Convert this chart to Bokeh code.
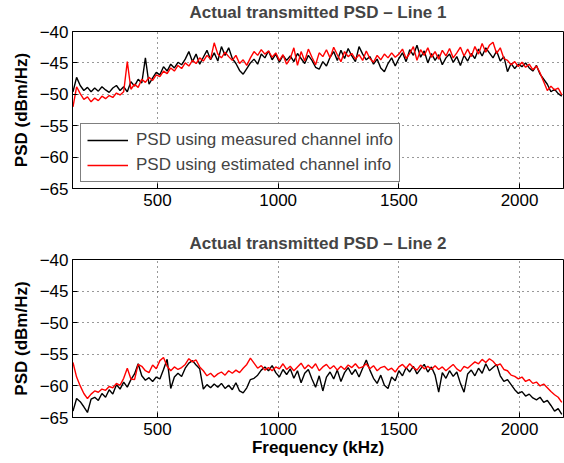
import numpy as np
from bokeh.plotting import figure
from bokeh.layouts import column
from bokeh.models import FixedTicker, Range1d, Legend, LegendItem, Title
from bokeh.embed import file_html
from bokeh.resources import INLINE

# Frequency grid (kHz)
freq = np.arange(150, 2176, 15)

# Line 1 PSD (dBm/Hz)
line1_measured = [
    -49.6, -47.3, -48.6, -49.4, -48.9, -49.6, -49.0, -49.5, -48.8, -49.3,
    -49.7, -49.0, -48.6, -49.4, -48.8, -49.6, -48.0, -48.7, -47.6, -48.2,
    -44.2, -48.4, -47.4, -46.5, -46.9, -45.6, -46.3, -45.2, -45.8, -44.9,
    -45.3, -44.4, -43.2, -44.8, -43.6, -45.2, -44.1, -43.0, -44.5, -43.4,
    -44.7, -42.4, -43.8, -42.6, -44.3, -45.1, -46.2, -46.8, -45.9, -45.0,
    -44.4, -45.2, -43.6, -44.2, -43.1, -44.5, -43.6, -44.9, -43.8, -44.6,
    -43.9, -44.8, -43.5, -44.3, -45.1, -43.8, -44.6, -45.7, -46.0, -44.8,
    -45.5, -44.1, -43.2, -44.6, -43.0, -44.3, -42.7, -43.9, -44.8, -42.4,
    -43.6, -44.5, -44.0, -45.2, -44.4, -45.8, -46.4, -45.1, -44.2, -45.5,
    -44.3, -43.4, -44.8, -42.9, -43.8, -42.2, -44.1, -43.1, -45.0, -43.5,
    -44.6, -43.7, -45.3, -44.2, -43.6, -44.9, -44.0, -45.4, -43.8, -44.7,
    -43.5, -44.3, -42.8, -43.9, -42.6, -43.4, -44.2, -43.1, -44.7, -44.0,
    -46.4, -45.1, -45.9, -45.2, -45.6, -45.0, -45.8, -46.3, -45.4, -46.8,
    -47.6, -48.4, -49.6, -49.2, -49.9, -50.3,
]
line1_estimated = [
    -52.0, -48.8, -49.9, -50.8, -50.4, -51.2, -50.6, -51.0, -50.3, -50.7,
    -50.2, -50.5, -49.8, -50.1, -49.6, -44.8, -49.2, -48.4, -48.9, -47.6,
    -48.1, -47.3, -47.8, -46.9, -47.2, -46.3, -46.7, -45.8, -46.3, -45.4,
    -45.9, -45.0, -45.5, -44.6, -45.1, -44.2, -44.7, -43.8, -44.4, -41.8,
    -43.6, -44.2, -43.3, -44.0, -44.6, -43.8, -45.1, -44.5, -45.4, -44.2,
    -43.2, -43.8, -42.9, -43.6, -43.1, -44.1, -43.4, -44.6, -43.7, -45.2,
    -44.3, -42.6, -45.4, -43.2, -44.7, -42.8, -44.1, -45.3, -43.4, -44.0,
    -42.9, -44.2, -42.5, -43.7, -44.8, -43.2, -44.0, -43.5, -44.4, -43.7,
    -44.6, -43.1, -44.3, -44.9, -43.8, -44.5, -43.6, -44.2, -43.4, -44.1,
    -43.6, -42.8, -44.3, -43.5, -42.4, -44.6, -42.9, -43.8, -42.6, -44.1,
    -43.2, -44.4, -43.0, -43.9, -42.7, -44.2, -43.4, -42.5, -43.9, -42.8,
    -44.0, -42.4, -43.6, -41.9, -43.3, -42.2, -41.7, -43.5, -42.6, -44.3,
    -44.6, -45.3, -44.8, -45.6, -44.9, -45.7, -45.2, -46.1, -45.5, -46.6,
    -48.0, -49.4, -48.7, -49.3, -49.0, -50.1,
]

# Line 2 PSD (dBm/Hz)
line2_measured = [
    -64.0, -62.0, -62.5, -63.3, -64.2, -62.1, -61.8, -62.3, -61.2, -61.8,
    -60.6, -61.3, -59.8, -60.5, -59.4, -60.2, -59.0, -58.1, -56.5, -58.4,
    -59.1, -58.7, -59.3, -58.6, -58.9, -57.4, -55.8, -60.4, -58.6, -58.0,
    -58.5, -57.2, -56.4, -56.0, -56.7, -57.3, -60.5, -59.8, -60.3, -59.7,
    -60.2, -59.6, -60.4, -59.9, -60.6, -59.5, -60.8, -61.1, -60.3, -59.0,
    -58.8, -58.3, -57.5, -57.0, -57.6, -56.8, -57.9, -58.6, -57.4, -58.2,
    -57.3, -58.8, -57.6, -59.5, -58.0, -57.4, -58.9, -60.2, -58.4, -60.8,
    -58.6, -57.8, -58.9, -57.5, -59.3, -57.9, -57.1, -58.2, -57.4, -58.6,
    -57.2, -55.9, -57.5, -58.8, -59.6, -58.3, -59.9, -60.4, -58.6, -59.2,
    -57.6, -58.4, -57.1, -57.8, -56.9, -58.1, -57.3, -56.6, -57.8, -57.0,
    -58.3, -61.0, -57.9, -58.8, -57.6, -58.5, -57.8, -59.6, -61.0, -58.1,
    -57.5, -58.4, -57.2, -58.0, -56.5, -57.6, -57.1, -56.6, -58.4, -59.3,
    -59.0, -59.8, -60.6, -61.2, -60.9, -61.6, -61.3, -61.9, -62.2, -61.8,
    -62.6, -62.3, -63.1, -64.0, -63.6, -64.5,
]
line2_estimated = [
    -56.3, -58.6, -60.0, -61.2, -62.0, -61.3, -60.8, -61.0, -60.5, -60.7,
    -60.1, -60.3, -59.6, -59.9, -58.8, -57.2, -58.9, -59.0, -56.6, -56.9,
    -57.6, -57.9, -56.7, -57.3, -56.0, -55.5, -56.9, -57.6, -57.0, -57.4,
    -57.1, -56.6, -55.7, -56.2, -55.9, -57.0, -57.6, -58.4, -58.0, -58.6,
    -58.1, -57.8, -58.3, -57.6, -58.0, -57.5, -57.9, -57.2, -56.6, -55.6,
    -56.4, -57.2, -56.8, -57.5, -57.1, -57.6, -57.0, -57.3, -56.5, -57.4,
    -56.9, -57.6, -57.0, -56.4, -57.3, -56.7, -57.2, -56.5, -57.6, -57.0,
    -56.6, -57.3, -56.8, -57.5, -56.9, -57.4, -56.7, -57.1, -56.5, -57.2,
    -57.0, -56.5, -57.3, -56.8, -57.6, -57.1, -56.9, -57.5, -57.2, -57.8,
    -57.0, -56.6, -57.2, -56.5, -57.1, -57.5, -56.7, -57.3, -56.9, -57.4,
    -56.8, -57.4, -57.0, -57.6, -57.1, -56.6, -57.3, -57.7, -56.9, -57.2,
    -56.7, -56.2, -56.5, -55.8, -56.3, -55.7, -56.1, -56.8, -56.5, -57.4,
    -57.6, -58.3, -58.5, -58.9, -58.6, -59.3, -59.0, -59.6, -59.4, -60.0,
    -59.7, -60.3, -60.9, -61.4, -61.8, -62.6,
]

x_ticks = [500, 1000, 1500, 2000]
y_ticks = [-65, -60, -55, -50, -45, -40]
titles = ["Actual transmitted PSD \u2013 Line 1", "Actual transmitted PSD \u2013 Line 2"]
legend_labels = ["PSD using measured channel info", "PSD using estimated channel info"]

FONT = "Liberation Sans"
FS = "17px"


def make_panel(title, measured, estimated, height, top, bottom, spacer, xlabel=None, legend=False):
    p = figure(width=564, height=height, output_backend="svg", toolbar_location=None,
               x_range=Range1d(148, 2182), y_range=Range1d(-65, -40),
               min_border_left=72, min_border_right=1,
               min_border_top=top, min_border_bottom=bottom)
    p.title.text = title
    p.title.align = "center"
    p.title.vertical_align = "top"
    p.title.text_font = FONT
    p.title.text_font_size = FS
    p.title.text_font_style = "bold"
    p.title.standoff = 0
    # thin blank spacer between the title and the axes box
    p.add_layout(Title(text=" ", text_font_size=spacer, standoff=0), "above")
    p.outline_line_color = "black"
    p.outline_line_width = 1
    p.background_fill_color = "white"
    p.border_fill_color = "white"

    for ax, ticks in ((p.xaxis[0], x_ticks), (p.yaxis[0], y_ticks)):
        ax.ticker = FixedTicker(ticks=ticks)
        ax.major_label_overrides = {t: str(t).replace("-", "\u2212") for t in ticks}
        ax.major_label_text_font = FONT
        ax.major_label_text_font_size = FS
        ax.major_label_text_color = "black"
        ax.major_tick_in = 5
        ax.major_tick_out = 0
        ax.minor_tick_line_color = None
        ax.axis_line_color = "black"
        ax.major_tick_line_color = "black"
        ax.axis_label_text_font = FONT
        ax.axis_label_text_font_size = FS
        ax.axis_label_text_font_style = "bold"
        ax.axis_label_text_color = "black"
    p.yaxis[0].axis_label = "PSD (dBm/Hz)"
    p.yaxis[0].major_label_standoff = 4
    p.yaxis[0].axis_label_standoff = 6
    p.xaxis[0].major_label_standoff = 5
    if xlabel:
        p.xaxis[0].axis_label = xlabel
        p.xaxis[0].axis_label_standoff = 0

    for g in (p.xgrid[0], p.ygrid[0]):
        g.grid_line_color = "#333333"
        g.grid_line_dash = "1 4"
        g.grid_line_width = 1

    r1 = p.line(freq, measured, line_color="black", line_width=1.4)
    r2 = p.line(freq, estimated, line_color="#ff0000", line_width=1.4)

    if legend:
        lg = Legend(items=[LegendItem(label=legend_labels[0], renderers=[r1]),
                           LegendItem(label=legend_labels[1], renderers=[r2])],
                    location=(8, 6))
        lg.label_text_font = FONT
        lg.label_text_font_size = FS
        lg.glyph_width = 41
        lg.glyph_height = 20
        lg.label_height = 20
        lg.label_standoff = 8
        lg.padding = 6
        lg.spacing = 5
        lg.margin = 0
        lg.border_line_color = "black"
        lg.border_line_width = 1
        lg.background_fill_alpha = 1
        p.add_layout(lg, "center")
    return p


p1 = make_panel(titles[0], line1_measured, line1_estimated, 232, 31, 44, "5px", legend=True)
p2 = make_panel(titles[1], line2_measured, line2_estimated, 231, 27, 46, "3px", xlabel="Frequency (kHz)")

layout = column(p1, p2, spacing=0)
open("out.html", "w").write(file_html(layout, INLINE))
